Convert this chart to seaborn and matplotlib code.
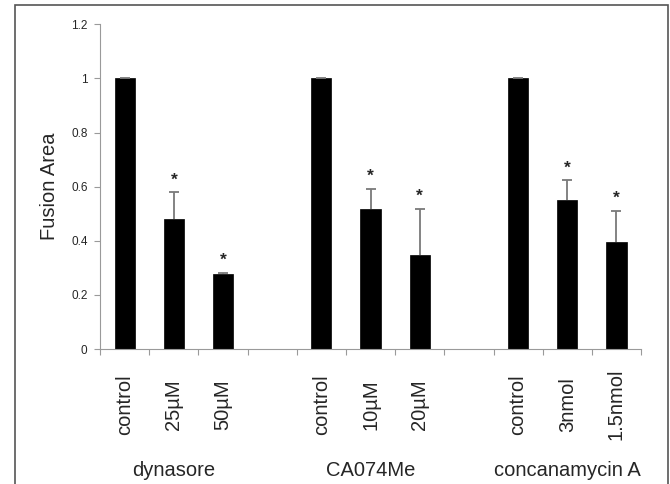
import pandas as pd
import numpy as np
import matplotlib
matplotlib.use("Agg")
import matplotlib.pyplot as plt
import matplotlib.transforms as mtransforms
from matplotlib.patches import Rectangle
import seaborn as sns

# values
groups = ["dynasore", "CA074Me", "concanamycin A"]
conditions = [["control", "25µM", "50µM"],
              ["control", "10µM", "20µM"],
              ["control", "3nmol", "1.5nmol"]]
means = [[1.0, 0.48, 0.277],
         [1.0, 0.517, 0.346],
         [1.0, 0.55, 0.394]]
errors = [[0.0, 0.10, 0.005],
          [0.0, 0.076, 0.173],
          [0.0, 0.074, 0.117]]
significant = [[False, True, True],
               [False, True, True],
               [False, True, True]]

sns.set_style("white")
plt.rcParams['font.family'] = ['Liberation Sans', 'DejaVu Sans']

# long table, one row per bar, plus empty slots between groups
rows = []
order = []
tick_labels = []
for gi, g in enumerate(groups):
    for ci, c in enumerate(conditions[gi]):
        key = g + "|" + c
        rows.append({"key": key, "group": g, "cond": c,
                     "mean": means[gi][ci], "err": errors[gi][ci],
                     "sig": significant[gi][ci]})
        order.append(key)
        tick_labels.append(c)
    if gi < len(groups) - 1:
        order.append("gap%d" % gi)
        tick_labels.append("")
df = pd.DataFrame(rows)

fig = plt.figure(figsize=(6.7, 4.84), dpi=100)
ax = fig.add_axes([0.1493, 0.2789, 0.8075, 0.6707])

sns.barplot(data=df, x="key", y="mean", order=order, color="black",
            width=0.41, errorbar=None, edgecolor="black", linewidth=0.5, ax=ax)

# upper-only error bars (stem + top cap) and significance stars
for _, r in df.iterrows():
    xp = order.index(r["key"])
    top = r["mean"] + r["err"]
    ax.vlines(xp, r["mean"], top, color="#7a7a7a", linewidth=1.3, zorder=3)
    ax.plot([xp], [top], marker="_", markersize=7, markeredgewidth=1.3,
            color="#7a7a7a", zorder=3)
    if r["sig"]:
        ax.text(xp, top + 0.045, "*", ha="center", va="center",
                fontsize=12.5, fontweight="bold")

ax.set_xlim(-0.5, len(order) - 0.5)
ax.set_ylim(0, 1.2)
ax.set_yticks(np.arange(0, 1.21, 0.2))
ax.set_yticklabels(["0", "0.2", "0.4", "0.6", "0.8", "1", "1.2"], fontsize=8.5)
ax.set_xticks(np.arange(len(order) + 1) - 0.5, minor=False)
ax.set_xticklabels([""] * (len(order) + 1))
ax.set_xticks(np.arange(len(order)), minor=True)
ax.set_xticklabels(tick_labels, minor=True, rotation=90, va="center",
                   fontsize=14.5)
ax.tick_params(axis="x", which="major", length=4, color="#9a9a9a", width=0.8,
               direction="out", bottom=True)
ax.tick_params(axis="x", which="minor", length=0, pad=40)
ax.tick_params(axis="y", length=4, color="#9a9a9a", width=0.8,
               direction="out", left=True, pad=5)

ax.set_xlabel("")
ax.set_ylabel("Fusion Area", fontsize=14.5, labelpad=9)

for s in ["top", "right"]:
    ax.spines[s].set_visible(False)
for s in ["left", "bottom"]:
    ax.spines[s].set_color("#9a9a9a")
    ax.spines[s].set_linewidth(0.8)

# group names under the tick labels
trans = mtransforms.blended_transform_factory(ax.transData, fig.transFigure)
pos = 0
for gi, g in enumerate(groups):
    n = len(conditions[gi])
    ax.text(pos + (n - 1) / 2, 0.027, g, transform=trans, ha="center",
            va="center", fontsize=14.5)
    pos += n + 1

# outer frame
fig.patches.append(Rectangle((15 / 670, -0.02), 653 / 670, 1.02 - 5 / 484,
                             transform=fig.transFigure, fill=False,
                             edgecolor="#555555", linewidth=1.2))

fig.savefig("out.png", dpi=100)
